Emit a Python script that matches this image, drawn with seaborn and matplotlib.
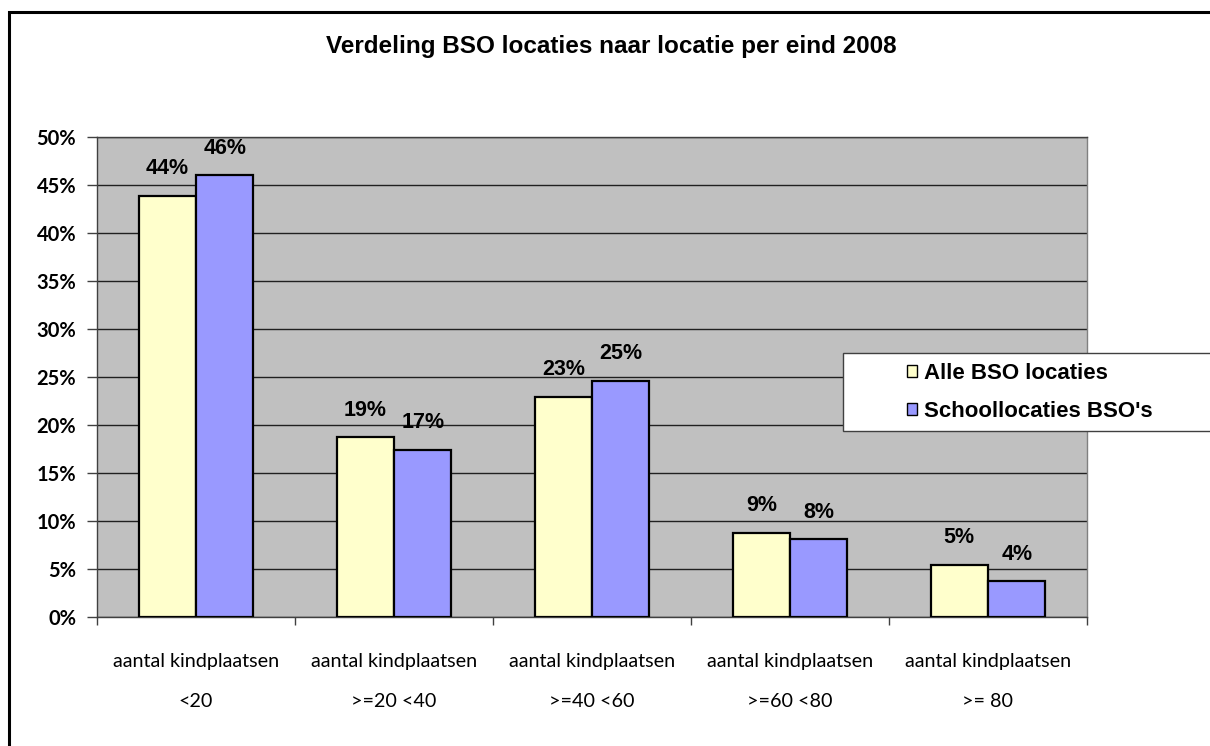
import numpy as np
import pandas as pd
import matplotlib
matplotlib.use("Agg")
import matplotlib.pyplot as plt
import seaborn as sns
from matplotlib.patches import Rectangle
from matplotlib.ticker import FixedLocator, FuncFormatter

# data (percent)
categories = ["aantal kindplaatsen\n<20", "aantal kindplaatsen\n>=20 <40",
              "aantal kindplaatsen\n>=40 <60", "aantal kindplaatsen\n>=60 <80",
              "aantal kindplaatsen\n>= 80"]
series = ["Alle BSO locaties", "Schoollocaties BSO's"]
alle_bso = [43.9, 18.7, 22.9, 8.75, 5.4]
school_bso = [46.0, 17.4, 24.6, 8.1, 3.7]
colors = ["#FFFFCC", "#9999FF"]

df = pd.DataFrame({
    "cat": categories * 2,
    "serie": [series[0]] * 5 + [series[1]] * 5,
    "pct": alle_bso + school_bso,
})

sns.set_style("white")
plt.rcParams['font.family'] = ['Liberation Sans', 'DejaVu Sans']
plt.rcParams['text.color'] = 'black'
plt.rcParams['xtick.color'] = 'black'
plt.rcParams['ytick.color'] = 'black'

fig = plt.figure(figsize=(12.1, 7.46), dpi=100)
ax = fig.add_axes([97 / 1210, 129 / 746, 990 / 1210, 480 / 746])
ax.set_facecolor("#C0C0C0")

sns.barplot(data=df, x="cat", y="pct", hue="serie", palette=colors,
            saturation=1, width=0.58, edgecolor="black", linewidth=1.6,
            ax=ax, zorder=3)

for cont in ax.containers:
    ax.bar_label(cont, fmt="%.0f%%", padding=12, fontsize=15.5,
                 fontweight="bold")

ax.set_ylim(0, 50)
ax.set_xlim(-0.5, 4.5)
ax.set_yticks(range(0, 51, 5))
ax.yaxis.set_major_formatter(FuncFormatter(lambda v, p: f"{v:.0f}%"))
ax.grid(axis="y", color="#202020", linewidth=1.0, zorder=0)
ax.set_axisbelow(True)
ax.set_xlabel("")
ax.set_ylabel("")

for s in ax.spines.values():
    s.set_color("#404040")
    s.set_linewidth(1.0)
ax.spines["right"].set_color("#808080")

ax.tick_params(axis="y", which="major", direction="out", length=7, width=1,
               color="#404040", left=True, pad=8)
for lab in ax.get_yticklabels():
    lab.set_family("Lato")
    lab.set_fontweight("bold")
    lab.set_fontsize(14.5)

ax.xaxis.set_minor_locator(FixedLocator(np.arange(-0.5, 5, 1)))
ax.tick_params(axis="x", which="minor", direction="out", length=6, width=1,
               color="#404040", bottom=True)
ax.tick_params(axis="x", which="major", length=0, pad=26)
for lab in ax.get_xticklabels():
    lab.set_family("Lato")
    lab.set_fontsize(14.2)
    lab.set_linespacing(2.6)

fig.text(0.505, 1 - 47 / 746, "Verdeling BSO locaties naar locatie per eind 2008",
         ha="center", va="center", fontsize=17.5, fontweight="bold")

# legend box running off the right edge like the reference
fig.patches.append(Rectangle((843 / 1210, 1 - 431 / 746), 0.4, 78 / 746,
                             transform=fig.transFigure, facecolor="white",
                             edgecolor="#404040", linewidth=1.0, zorder=5))
handles, labels = ax.get_legend_handles_labels()
ax.legend_.remove()
leg = fig.legend(handles, labels, loc="upper left",
                 bbox_to_anchor=(887 / 1210, 1 - 343 / 746),
                 frameon=False, handlelength=0.45, handleheight=0.45,
                 handletextpad=0.3, labelspacing=0.78, borderpad=0.4,
                 prop={"weight": "bold", "size": 16})
leg.set_zorder(6)
for h in leg.legend_handles:
    h.set_edgecolor("black")
    h.set_linewidth(1.0)

# outer border (right/bottom fall outside the picture)
fig.patches.append(Rectangle((9 / 1210, -0.1), 1.2, 1.1 - 12 / 746,
                             transform=fig.transFigure, fill=False,
                             edgecolor="black", linewidth=2.2, zorder=10))

fig.savefig("out.png", dpi=100)
